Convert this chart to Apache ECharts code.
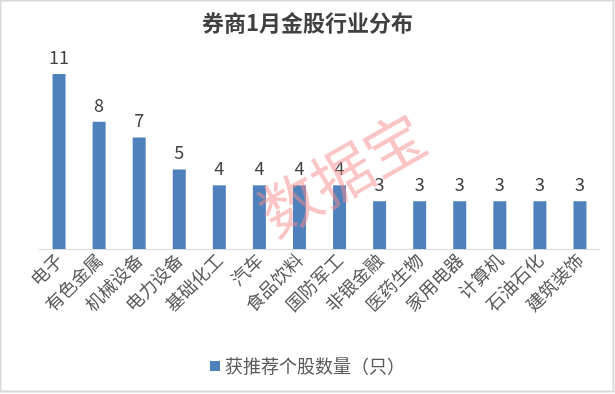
<!DOCTYPE html>
<html>
<head>
<meta charset="utf-8">
<script src="https://cdn.jsdelivr.net/npm/echarts@6/dist/echarts.min.js"></script>
<style>html,body{margin:0;padding:0;background:#fff}#c{width:615px;height:394px}</style>
</head>
<body>
<div id="c"></div>
<script>
const categories = ['电子','有色金属','机械设备','电力设备','基础化工','汽车','食品饮料','国防军工','非银金融','医药生物','家用电器','计算机','石油石化','建筑装饰'];
const counts = [11, 8, 7, 5, 4, 4, 4, 4, 3, 3, 3, 3, 3, 3];
const seriesName = '获推荐个股数量（只）';
const titleText = '券商1月金股行业分布';
const watermark = '数据宝';

const font = '"Microsoft YaHei","Noto Sans CJK SC",sans-serif';
const chart = echarts.init(document.getElementById('c'));
chart.setOption({
  animation: false,
  backgroundColor: '#fff',
  title: {
    text: titleText, left: 'center', top: 7,
    textStyle: { fontFamily: font, fontSize: 22, fontWeight: 'bold', color: '#404040' }
  },
  legend: {
    bottom: 14, left: 'center', itemWidth: 10, itemHeight: 10, icon: 'rect', itemGap: 6,
    textStyle: { fontFamily: font, fontSize: 18, color: '#595959' },
    data: [seriesName]
  },
  grid: { left: 39, right: 15, top: 58, bottom: 145 },
  xAxis: {
    type: 'category', data: categories,
    axisLine: { lineStyle: { color: '#d9d9d9', width: 1 } },
    axisTick: { show: false },
    axisLabel: { rotate: 45, interval: 0, fontFamily: font, fontSize: 18, color: '#595959', margin: 8 }
  },
  yAxis: {
    type: 'value', min: 0, max: 12, interval: 2, show: false,
    splitLine: { show: false }
  },
  series: [{
    name: seriesName, type: 'bar', data: counts, barWidth: 13,
    itemStyle: { color: '#4f81bd' },
    label: { show: true, position: 'top', distance: 8, fontFamily: font, fontSize: 18, color: '#404040' }
  }],
  graphic: [
    { type: 'rect', shape: { x: 0.5, y: 0.5, width: 613, height: 391 }, style: { fill: 'none', stroke: '#d9d9d9', lineWidth: 2 }, silent: true },
    { type: 'text', x: 342, y: 174, rotation: 0.52, z: 100,
      style: { text: watermark, fontFamily: font, fontSize: 60, fill: 'rgba(248,140,140,0.5)', textAlign: 'center', textVerticalAlign: 'middle' } }
  ]
});
</script>
</body>
</html>
